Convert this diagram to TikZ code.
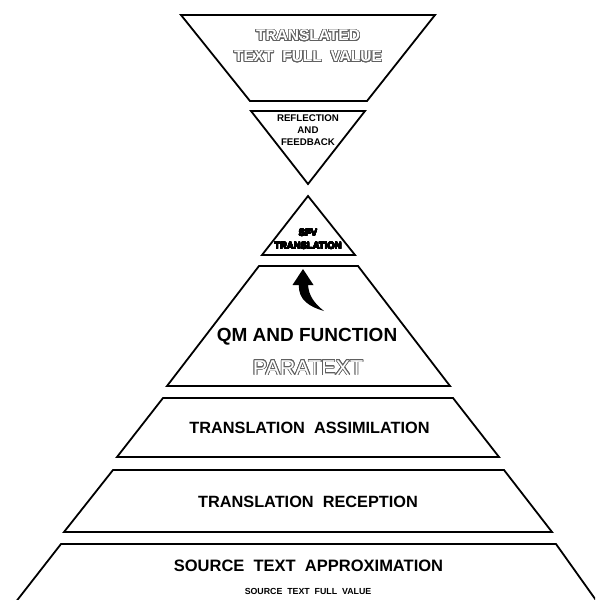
\documentclass[tikz,border=0pt]{standalone}
\usepackage{fontspec}
\setmainfont{Liberation Sans}
\usepackage[copies]{contour}
\contourlength{0.7pt}
\contournumber{24}
\definecolor{outl}{HTML}{606060}
\begin{document}
\begin{tikzpicture}[x=1pt,y=-1pt,
  shape line/.style={line width=1.8pt, line join=miter},
  lbl/.style={inner sep=0pt, font=\bfseries, align=center},
  ghost/.style={inner sep=0pt, align=center}]
\useasboundingbox (0,0) rectangle (595,600);
\clip (0,0) rectangle (595,600);
% shapes
\draw[shape line] (181,15) -- (435,15) -- (367,101) -- (250,101) -- cycle;
\draw[shape line] (251,111) -- (365,111) -- (308,184) -- cycle;
\draw[shape line] (308,196) -- (355,255) -- (262,255) -- cycle;
\draw[shape line] (259,266) -- (358,266) -- (450,386) -- (167,386) -- cycle;
\draw[shape line] (163,398) -- (453,398) -- (499,457) -- (117,457) -- cycle;
\draw[shape line] (113,470) -- (504,470) -- (552,532) -- (64,532) -- cycle;
\draw[shape line] (15,603) -- (61,544) -- (556,544) -- (598,603);
% curved arrow
\fill (299,285) .. controls (298,300) and (310,307) .. (324,311)
      .. controls (314,303) and (309,296) .. (308,285)
      -- (313.5,285) -- (303,269) -- (292.5,285) -- cycle;
% texts
\node[ghost, font=\bfseries\fontsize{15.5}{21}\selectfont] (ttfv) at (308,46.5)
  {\color{white}\contour{outl}{TRANSLATED}\\\color{white}\contour{outl}{TEXT\ \ FULL\ \ VALUE}};
\node[lbl, font=\bfseries\fontsize{9.7}{12}\selectfont] (refl) at (308,130) {REFLECTION\\AND\\FEEDBACK};
\node[lbl, font=\bfseries\fontsize{9.5}{13}\selectfont] (sfv) at (308,239.5)
  {\contourlength{0.3pt}\contour{black}{SFV}\\\contourlength{0.3pt}\contour{black}{TRANSLATION}};
\node[inner sep=0pt, font=\fontsize{19}{21}\selectfont\bfseries] (qm) at (307,337) {QM\ AND\ FUNCTION};
\node[ghost, font=\fontsize{21.5}{24}\selectfont] (para) at (308,368) {\color{white}\contour{outl}{PARATEXT}};
\node[lbl, font=\bfseries\fontsize{16.3}{18}\selectfont] (assim) at (309.5,428) {TRANSLATION\ \ ASSIMILATION};
\node[lbl, font=\bfseries\fontsize{16.3}{18}\selectfont] (recep) at (308,502) {TRANSLATION\ \ RECEPTION};
\node[lbl, font=\bfseries\fontsize{16.5}{19}\selectfont] (approx) at (308.5,566) {SOURCE\ \ TEXT\ \ APPROXIMATION};
\node[lbl, font=\bfseries\fontsize{8.8}{10}\selectfont] (stfv) at (308,591) {SOURCE\ \ TEXT\ \ FULL\ \ VALUE};
\end{tikzpicture}
\end{document}
